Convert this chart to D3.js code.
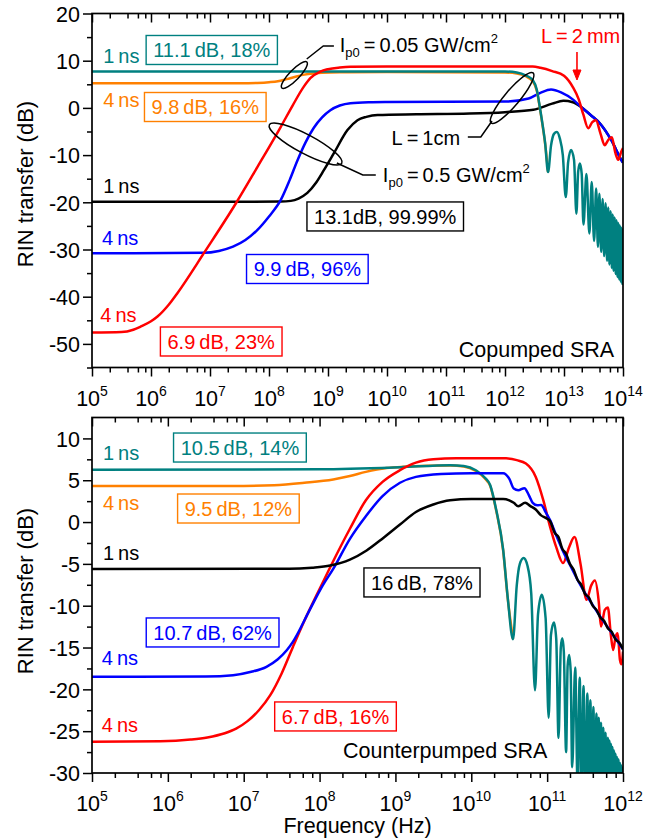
<!DOCTYPE html>
<html><head><meta charset="utf-8">
<script src="https://cdn.jsdelivr.net/npm/d3@7"></script>
<style>body{margin:0;background:#fff}svg{display:block}</style>
</head><body><svg id="c" width="666" height="840"></svg>
<script>
// ---------- DATA (x = log10 frequency in Hz, y = RIN transfer in dB) ----------
// Copumped SRA (top panel)
const coTeal1ns = [[5,7.7],[8,7.7],[10,7.7],[12,7.7],[12.2,7.5],[12.35,6.9],[12.47,5.9],[12.54,3.8],[12.59,0.2],[12.64,-3.8],[12.68,-7.4],[12.73,-13.6],
 [12.78,-8],[12.83,-5.5],[12.88,-5.1],[12.93,-6.5],[12.98,-10],[13.03,-18.9],
 [13.07,-11.5],[13.12,-8.9],[13.17,-11],[13.21,-22.4],
 [13.24,-13.5],[13.27,-11.8],[13.30,-14],[13.33,-24.7],
 [13.38,-14.0],[13.43,-26.6],[13.47,-15.7],[13.51,-28.2],[13.545,-17.1],[13.575,-29.4],[13.60,-18.2],[13.63,-30.5],[13.655,-19.3],[13.68,-31.4],
 [13.705,-20.2],[13.73,-32.4],[13.75,-21.1],[13.77,-33.2],[13.79,-21.9],[13.81,-33.9],[13.825,-22.6],[13.84,-34.5],[13.858,-23.2],[13.876,-35.2],
 [13.89,-23.8],[13.906,-35.8],[13.92,-24.4],[13.934,-36.3],[13.947,-24.9],[13.96,-36.8],[13.972,-25.4],[13.985,-37.3],[13.993,-25.8],[14,-37.5]];
const coOrange4ns = [[5,5.2],[7.0,5.2],[7.5,5.22],[7.8,5.3],[8.0,5.45],[8.15,5.65],[8.3,6.1],[8.45,6.6],[8.6,7.05],[8.75,7.3],[8.9,7.45],[9.2,7.55],[10,7.6],[12,7.5],[12.2,7.3],[12.35,6.7],[12.47,5.6],[12.54,3.6],[12.59,0],[12.64,-4],[12.68,-7.6],[12.73,-13.6]];
const coRed4ns = [[5,-47.6],[5.5,-47.5],[5.7,-47.0],[5.83,-46.3],[6.0,-45.2],[6.11,-44.2],[6.3,-41.7],[6.45,-39.2],[6.91,-30.5],[7.44,-20.2],[7.8,-12.6],[8.2,-4.0],[8.4,0.5],[8.59,4.5],[8.7,6.3],[8.87,7.7],[9.0,8.2],[9.2,8.55],[9.38,8.7],[10,8.75],[12.47,8.75],[12.6,8.5],[12.8,7.8],[13.0,6.8],[13.15,4.4],[13.25,1.8],[13.33,-1.5],[13.41,-4.3],[13.48,-3.0],[13.54,-2.6],[13.62,-5.5],[13.69,-7.9],[13.75,-6.8],[13.81,-6.2],[13.87,-9.5],[13.92,-11.0],[13.97,-9.3],[14,-8.5]];
const coBlue4ns = [[5,-30.8],[6.9,-30.7],[7.15,-30.3],[7.39,-29.4],[7.6,-28.0],[7.8,-25.9],[8.0,-23.0],[8.2,-19.5],[8.35,-15.3],[8.48,-11.2],[8.62,-7.3],[8.76,-4.2],[8.9,-2.0],[9.04,-0.5],[9.2,0.5],[9.38,1.0],[9.7,1.2],[10,1.25],[12.02,1.35],[12.4,2.0],[12.6,3.2],[12.78,3.9],[12.95,3.3],[13.16,1.7],[13.29,0.2],[13.45,-1.5],[13.61,-3.3],[13.8,-6.8],[13.97,-11.0],[14,-11.6]];
const coBlack1ns = [[5,-19.9],[8.2,-19.85],[8.37,-19.7],[8.5,-19.2],[8.65,-18.0],[8.8,-15.8],[8.93,-13.2],[9.1,-9.6],[9.33,-4.7],[9.5,-2.6],[9.65,-1.9],[9.84,-1.5],[10.5,-1.35],[11.4,-1.2],[12.0,-0.9],[12.48,-0.4],[12.8,0.9],[12.99,1.5],[13.15,1.2],[13.29,0.2],[13.45,-1.5],[13.61,-3.3],[13.8,-6.8],[13.97,-11.0],[14,-11.6]];

// Counterpumped SRA (bottom panel)
const ctTeal1ns = [[5,6.25],[8,6.3],[9.06,6.55],[9.72,6.8],[9.9,6.7],[10.06,6.2],[10.18,5.3],[10.25,4.4],[10.33,1.4],[10.42,-3.3],[10.48,-9.0],[10.55,-14.0],
 [10.60,-7.5],[10.64,-5.0],[10.69,-4.3],[10.74,-5.2],[10.79,-8.5],[10.84,-20.1],
 [10.88,-11],[10.93,-8.7],[10.98,-11.5],[11.02,-23.4],
 [11.05,-13.5],[11.09,-12.0],[11.12,-14],[11.15,-25.8],
 [11.18,-15],[11.20,-13.9],[11.22,-15.5],[11.25,-27.5],
 [11.27,-17.2],[11.29,-15.9],[11.31,-17.8],[11.33,-29.3],
 [11.37,-17.4],[11.40,-31],[11.43,-18.6],[11.45,-33],[11.48,-19.6],[11.50,-34],[11.53,-20.5],[11.55,-35],[11.57,-21.3],[11.59,-36],
 [11.61,-22.1],[11.63,-37],[11.65,-22.9],[11.665,-38],[11.68,-23.4],[11.695,-38],[11.71,-24.0],[11.725,-39],[11.74,-24.6],[11.755,-39],
 [11.77,-25.2],[11.785,-40],[11.80,-25.8],[11.81,-40],[11.82,-26.1],[11.83,-40],[11.84,-26.5],[11.85,-40],[11.86,-26.9],[11.87,-40],
 [11.88,-27.3],[11.89,-40],[11.90,-27.7],[11.91,-40],[11.92,-28.1],[11.93,-40],[11.94,-28.4],[11.95,-40],[11.96,-28.8],[11.968,-40],
 [11.976,-29.1],[11.984,-40],[11.992,-29.4],[12.0,-40]];
const ctOrange4ns = [[5,4.3],[7.0,4.32],[7.4,4.4],[7.8,4.7],[8.18,5.1],[8.4,5.5],[8.61,6.0],[8.88,6.45],[9.1,6.6],[9.72,6.75],[9.9,6.65],[10.06,6.1],[10.18,5.2],[10.25,4.3],[10.33,1.3],[10.42,-3.4],[10.48,-9.1],[10.55,-14.0]];
const ctRed4ns = [[5,-26.26],[5.9,-26.2],[6.3,-26.0],[6.52,-25.75],[6.75,-25.25],[6.9,-24.7],[7.05,-23.8],[7.2,-22.5],[7.35,-20.7],[7.5,-18.1],[7.65,-14.9],[7.8,-11.8],[8.0,-8.0],[8.14,-5.4],[8.40,-0.8],[8.61,2.6],[8.83,4.8],[9.06,6.2],[9.27,7.1],[9.5,7.5],[9.8,7.62],[10.46,7.62],[10.6,7.4],[10.72,7.0],[10.85,5.4],[10.95,2.6],[11.04,-0.6],[11.12,-3.0],[11.21,-4.9],[11.29,-3.0],[11.36,-1.8],[11.44,-5],[11.52,-9.3],[11.58,-7.6],[11.63,-7.0],[11.68,-9.5],[11.71,-12.5],[11.76,-10.5],[11.80,-10.2],[11.84,-13.5],[11.87,-15.3],[11.9,-13.8],[11.93,-13.3],[11.96,-16.5],[11.98,-17.0],[12,-15.5]];
const ctBlue4ns = [[5,-18.5],[6.5,-18.45],[6.86,-18.3],[7.1,-17.9],[7.3,-17.3],[7.45,-16.4],[7.57,-15.3],[7.65,-14.3],[7.87,-10.5],[8.04,-7.6],[8.18,-5.6],[8.40,-2.0],[8.61,0.7],[8.83,3.1],[9.06,4.7],[9.27,5.4],[9.6,5.75],[10.0,5.85],[10.42,5.85],[10.5,5.2],[10.56,4.0],[10.62,3.8],[10.70,4.05],[10.76,3.2],[10.81,2.3],[10.87,2.0],[10.92,2.05],[10.98,1.2],[11.04,0.2],[11.12,-1.6],[11.2,-3.3],[11.3,-5.1],[11.4,-6.9],[11.5,-8.5],[11.6,-9.9],[11.7,-11.3],[11.8,-12.6],[11.9,-13.9],[12,-15.2]];
const ctBlack1ns = [[5,-5.6],[7.6,-5.58],[7.9,-5.45],[8.14,-5.2],[8.4,-4.5],[8.62,-3.4],[8.84,-1.9],[9.06,-0.3],[9.27,1.2],[9.5,2.1],[9.72,2.6],[10.0,2.75],[10.42,2.75],[10.5,2.6],[10.56,2.3],[10.62,1.9],[10.71,2.3],[10.78,1.9],[10.85,1.5],[10.92,0.8],[10.98,0.5],[11.04,0.1],[11.1,-1.3],[11.15,-1.8],[11.2,-3.2],[11.25,-3.8],[11.3,-5.0],[11.35,-5.7],[11.4,-6.9],[11.45,-7.5],[11.5,-8.6],[11.55,-9.0],[11.6,-10.0],[11.65,-10.5],[11.7,-11.4],[11.75,-11.8],[11.8,-12.7],[11.85,-13.1],[11.9,-14.0],[11.95,-14.4],[12,-15.2]];

// tick values
const coXExp = [5,6,7,8,9,10,11,12,13,14];
const ctXExp = [5,6,7,8,9,10,11,12];
const coYTicks = [-50,-40,-30,-20,-10,0,10,20];
const ctYTicks = [-30,-25,-20,-15,-10,-5,0,5,10];
const minorMult = [2,4,6,8];

// annotation texts
const coLabels = ["1\u2009ns","4\u2009ns","1\u2009ns","4\u2009ns","4\u2009ns"];
const coBoxes = ["11.1\u2009dB, 18%","9.8\u2009dB, 16%","13.1dB, 99.99%","9.9\u2009dB, 96%","6.9\u2009dB, 23%"];
const ctLabels = ["1\u2009ns","4\u2009ns","1\u2009ns","4\u2009ns","4\u2009ns"];
const ctBoxes = ["10.5\u2009dB, 14%","9.5\u2009dB, 12%","16\u2009dB, 78%","10.7\u2009dB, 62%","6.7\u2009dB, 16%"];

// ---------- STYLE / LAYOUT ----------
const TEAL="#008080", ORANGE="#FF8000", RED="#FF0000", BLUE="#0000FF", BLACK="#000000";
const FONT='"Liberation Sans", Arial, Helvetica, sans-serif';
const L=92, R=623;
const svg=d3.select("#c");
const defs=svg.append("defs");

function drawPanel(p){
  const x=d3.scaleLog().domain([1e5, Math.pow(10,p.xExp[p.xExp.length-1])]).range([L,R]);
  const y=d3.scaleLinear().domain(p.ydom).range([p.bottom,p.top]);
  const X=e=>x(Math.pow(10,e));
  const g=svg.append("g");
  defs.append("clipPath").attr("id","clip"+p.id).append("rect")
    .attr("x",L).attr("y",p.top).attr("width",R-L).attr("height",p.bottom-p.top);
  const line=d3.line().x(d=>X(d[0])).y(d=>y(d[1])).curve(d3.curveMonotoneX);
  const cg=g.append("g").attr("clip-path",`url(#clip${p.id})`);
  p.series.forEach(s=>{
    cg.append("path").datum(s.data).attr("d",line).attr("fill","none")
      .attr("stroke",s.color).attr("stroke-width",2.5).attr("stroke-linejoin","round");
  });

  const majors=p.xExp.map(e=>Math.pow(10,e));
  const minors=[];
  p.xExp.slice(0,-1).forEach(e=>minorMult.forEach(m=>minors.push(m*Math.pow(10,e))));
  const yMinor=[];
  const step=p.yTicks[1]-p.yTicks[0];
  p.yTicks.forEach(v=>{ if(v-step/2>=p.ydom[0]-1e-9) yMinor.push(v-step/2); });
  const style=sel=>{sel.select(".domain").remove();sel.selectAll("line").attr("stroke","#000").attr("stroke-width",1.5);};
  g.append("g").attr("transform",`translate(0,${p.bottom})`)
    .call(d3.axisBottom(x).tickValues(majors).tickSize(9).tickFormat("")).call(style);
  g.append("g").attr("transform",`translate(0,${p.bottom})`)
    .call(d3.axisBottom(x).tickValues(minors).tickSize(5).tickFormat("")).call(style);
  g.append("g").attr("transform",`translate(0,${p.top})`)
    .call(d3.axisTop(x).tickValues(majors).tickSize(-9).tickFormat("")).call(style);
  g.append("g").attr("transform",`translate(0,${p.top})`)
    .call(d3.axisTop(x).tickValues(minors).tickSize(-5).tickFormat("")).call(style);
  const ya=g.append("g").attr("transform",`translate(${L},0)`)
    .call(d3.axisLeft(y).tickValues(p.yTicks).tickSize(9).tickPadding(3).tickFormat(d=>String(d))).call(style);
  ya.selectAll("text").attr("font-family",FONT).attr("font-size",21.5).attr("fill","#000").attr("dy","0.36em");
  g.append("g").attr("transform",`translate(${L},0)`)
    .call(d3.axisLeft(y).tickValues(yMinor).tickSize(5).tickFormat("")).call(style);
  g.append("rect").attr("x",L).attr("y",p.top).attr("width",R-L).attr("height",p.bottom-p.top)
    .attr("fill","none").attr("stroke","#000").attr("stroke-width",1.7);

  p.xExp.forEach(e=>{
    const t=g.append("text").attr("x",x(Math.pow(10,e))).attr("y",p.bottom+38)
      .attr("text-anchor","middle").attr("font-family",FONT).attr("font-size",21.5);
    t.append("tspan").text("10");
    t.append("tspan").attr("dy",-10).attr("font-size",14).text(String(e));
  });

  g.append("text").attr("transform",`translate(33,${p.ytitleY}) rotate(-90)`)
    .attr("text-anchor","middle").attr("font-family",FONT).attr("font-size",22).text("RIN transfer (dB)");

  p.labels.forEach((t,i)=>{
    const a=p.labelPos[i];
    g.append("text").attr("x",X(a[0])).attr("y",y(a[1])).attr("font-family",FONT).attr("font-size",20)
      .attr("fill",p.colors[i]).text(t);
  });
  p.boxes.forEach((t,i)=>{
    const a=p.boxPos[i];
    const tx=g.append("text").attr("x",X(a[0])).attr("y",y(a[1])).attr("dy","0.36em")
      .attr("text-anchor","middle").attr("font-family",FONT).attr("font-size",20)
      .attr("fill",p.colors[i]).text(t);
    const bb=tx.node().getBBox();
    g.append("rect").attr("x",X(a[0])-bb.width/2-7).attr("y",y(a[1])-14.5)
      .attr("width",bb.width+14).attr("height",29).attr("fill","none")
      .attr("stroke",p.colors[i]).attr("stroke-width",1.4);
  });
  g.append("text").attr("x",X(p.name.pos[0])).attr("y",y(p.name.pos[1])).attr("text-anchor",p.name.anchor)
    .attr("font-family",FONT).attr("font-size",21.5).text(p.name.t);
  return {X,y,g};
}

const colors=[TEAL,ORANGE,BLACK,BLUE,RED];
const topPanel=drawPanel({id:"co", xExp:coXExp, ydom:[-55,20], top:13.5, bottom:367.5, yTicks:coYTicks, ytitleY:184,
  series:[{data:coBlack1ns,color:BLACK},{data:coBlue4ns,color:BLUE},{data:coOrange4ns,color:ORANGE},{data:coTeal1ns,color:TEAL},{data:coRed4ns,color:RED}],
  labels:coLabels, labelPos:[[5.19,9.51],[5.19,0.19],[5.19,-18.03],[5.17,-29.05],[5.14,-45.36]],
  boxes:coBoxes, boxPos:[[7.03,12.27],[6.92,0.19],[9.97,-23.0],[8.65,-34.13],[7.19,-49.49]],
  colors, name:{t:"Copumped SRA",pos:[13.85,-52.77],anchor:"end"}});

const botPanel=drawPanel({id:"ct", xExp:ctXExp, ydom:[-30,12.5], top:417.5, bottom:773, yTicks:ctYTicks, ytitleY:591,
  series:[{data:ctOrange4ns,color:ORANGE},{data:ctTeal1ns,color:TEAL},{data:ctRed4ns,color:RED},{data:ctBlue4ns,color:BLUE},{data:ctBlack1ns,color:BLACK}],
  labels:ctLabels, labelPos:[[5.145,7.42],[5.145,1.44],[5.145,-4.56],[5.13,-17.09],[5.13,-25.1]],
  boxes:ctBoxes, boxPos:[[6.95,8.91],[6.93,1.62],[9.35,-7.22],[6.59,-13.2],[8.21,-23.24]],
  colors, name:{t:"Counterpumped SRA",pos:[8.31,-28.2],anchor:"start"}});

svg.append("text").attr("x",(L+R)/2).attr("y",833).attr("text-anchor","middle")
  .attr("font-family",FONT).attr("font-size",21.5).text("Frequency (Hz)");

// ---------- top-panel annotations ----------
{
  const {X,y,g}=topPanel;
  const ell=[[8.43,6.97,18,5,-46],[8.62,-7.65,41,9.5,28],[12.12,2.1,32.7,7.5,-50]];
  ell.forEach(e=>g.append("ellipse").attr("cx",0).attr("cy",0).attr("rx",e[2]).attr("ry",e[3])
    .attr("transform",`translate(${X(e[0])},${y(e[1])}) rotate(${e[4]})`)
    .attr("fill","none").attr("stroke","#000").attr("stroke-width",1.5));
  const ll=d3.line().x(d=>X(d[0])).y(d=>y(d[1]));
  [[[8.64,10.36],[8.92,13.11],[9.10,13.11]],
   [[9.15,-11.67],[9.59,-14.22],[9.81,-14.22]],
   [[11.37,-6.17],[11.59,-6.17],[11.78,-2.78]]].forEach(pts=>
    g.append("path").attr("d",ll(pts)).attr("fill","none").attr("stroke","#000").attr("stroke-width",1.5));
  const ip=(pos,val)=>{
    const t=g.append("text").attr("x",X(pos[0])).attr("y",y(pos[1])).attr("font-family",FONT).attr("font-size",20);
    t.append("tspan").text("I");
    t.append("tspan").attr("dy",5).attr("font-size",13).text("p0");
    t.append("tspan").attr("dy",-5).text("\u2009=\u2009"+val+" GW/cm");
    t.append("tspan").attr("dy",-9).attr("font-size",13).text("2");
  };
  ip([9.20,11.84],"0.05");
  ip([9.93,-15.70],"0.5");
  g.append("text").attr("x",X(11.24)).attr("y",y(-7.86)).attr("text-anchor","end")
    .attr("font-family",FONT).attr("font-size",20).text("L\u2009=\u20091cm");
  g.append("text").attr("x",X(12.61)).attr("y",y(13.75)).attr("font-family",FONT).attr("font-size",20)
    .attr("fill",RED).text("L\u2009=\u20092\u2009mm");
  const ax=X(13.22), y0=y(11.84), y1=y(5.91);
  g.append("line").attr("x1",ax).attr("x2",ax).attr("y1",y0).attr("y2",y1-4).attr("stroke",RED).attr("stroke-width",1.6);
  g.append("path").attr("d",`M${ax-4},${y1-10}L${ax},${y1}L${ax+4},${y1-10}Z`).attr("fill",RED).attr("stroke",RED).attr("stroke-width",1);
}
</script>
</body></html>
